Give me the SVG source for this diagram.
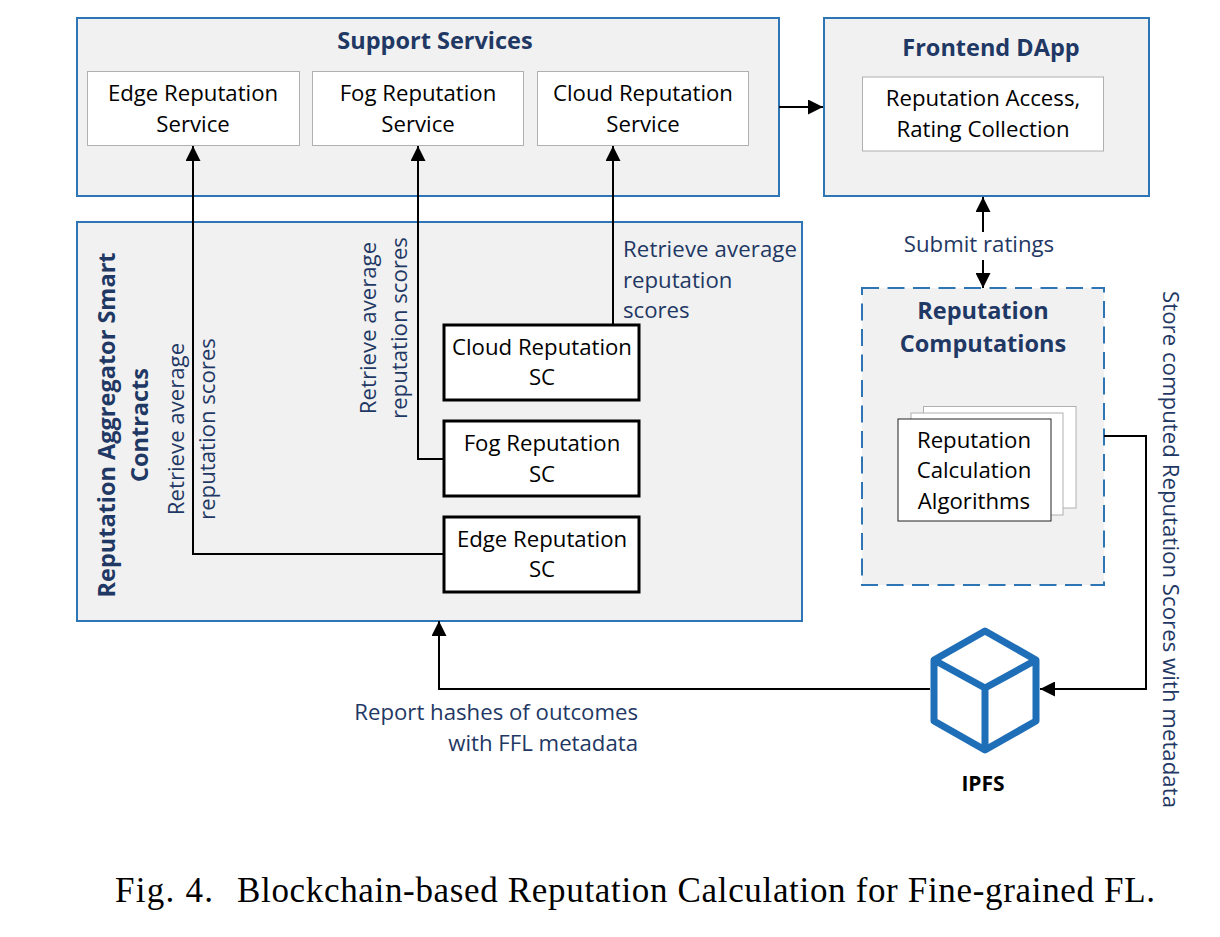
<svg xmlns="http://www.w3.org/2000/svg" width="1220" height="937" viewBox="0 0 1220 937">
<style>
text{font-family:"Open Sans","Noto Sans",sans-serif;text-anchor:middle;font-size:22.2px;fill:#000}
.p{fill:#f1f1f1;stroke:#2e75b6;stroke-width:2}
.w{fill:#fff;stroke:#b0b0b0;stroke-width:1}
.b{fill:#fff;stroke:#000;stroke-width:3}
.h{font-weight:700;fill:#1f3864;font-size:23.5px}
.l{fill:#1f3864;font-size:22.2px}
.s{text-anchor:start}
.e{text-anchor:end}
.c{fill:none;stroke:#000;stroke-width:2;marker-end:url(#a)}
.cap{font-family:"Liberation Serif",serif;font-size:35px;text-anchor:start}
</style>
<defs><marker id="a" viewBox="0 0 10 10" refX="10" refY="5" markerWidth="7.5" markerHeight="7.5" orient="auto-start-reverse"><path d="M0 0L10 5L0 10Z" fill="#000"/></marker></defs>
<rect width="1220" height="937" fill="#fff"/>
<g id="support"><rect class="p" x="77" y="18" width="702" height="178"/><text class="h" x="435" y="49">Support Services</text></g>
<g id="edge-service"><rect class="w" x="87.500" y="71.500" width="212" height="74"/><text x="193" y="101">Edge Reputation</text><text x="193" y="132">Service</text></g>
<g id="fog-service"><rect class="w" x="312.500" y="71.500" width="211" height="74"/><text x="418" y="101">Fog Reputation</text><text x="418" y="132">Service</text></g>
<g id="cloud-service"><rect class="w" x="537.500" y="71.500" width="211" height="74"/><text x="643" y="101">Cloud Reputation</text><text x="643" y="132">Service</text></g>
<g id="frontend"><rect class="p" x="824" y="18" width="325" height="178"/><text class="h" x="991" y="56">Frontend DApp</text><rect class="w" x="862.500" y="77" width="241" height="74"/><text x="983" y="106">Reputation Access,</text><text x="983" y="137">Rating Collection</text></g>
<g id="aggregator"><rect class="p" x="77" y="222" width="725" height="399"/><text class="h" transform="translate(115 425) rotate(-90)">Reputation Aggregator Smart</text><text class="h" transform="translate(148 425) rotate(-90)">Contracts</text></g>
<g id="cloud-sc"><rect class="b" x="444" y="325" width="195" height="75"/><text x="542" y="355">Cloud Reputation</text><text x="542" y="385">SC</text></g>
<g id="fog-sc"><rect class="b" x="444" y="421" width="195" height="75"/><text x="542" y="451">Fog Reputation</text><text x="542" y="482">SC</text></g>
<g id="edge-sc"><rect class="b" x="444" y="517" width="195" height="75"/><text x="542" y="547">Edge Reputation</text><text x="542" y="577">SC</text></g>
<g id="computations"><rect x="862" y="288" width="242" height="297" fill="#f1f1f1" stroke="#2e75b6" stroke-width="2" stroke-dasharray="17 8.5"/><text class="h" x="983" y="319">Reputation</text><text class="h" x="983" y="352">Computations</text>
<rect class="w" x="923.500" y="406.500" width="152.500" height="101.500"/><rect class="w" x="911" y="413" width="152" height="102"/><rect x="898" y="419" width="153" height="102" fill="#fff" stroke="#222" stroke-width="1"/>
<text x="974" y="448">Reputation</text><text x="974" y="478">Calculation</text><text x="974" y="509">Algorithms</text></g>
<g id="ipfs"><path d="M985 631L1036 660V721L985 750L934 721V660ZM934 660L985 688L1036 660M985 688V750" fill="none" stroke="#1f6fb8" stroke-width="7" stroke-linejoin="round"/><text x="983" y="791" style="font-weight:700;font-size:21px">IPFS</text></g>
<g id="connectors">
<path class="c" d="M444 554H193V146"/><path class="c" d="M444 459H418V146"/><path class="c" d="M613 325V146"/><path class="c" d="M779 107H823"/>
<path class="c" d="M983 232V197"/><path class="c" d="M983 260V288"/>
<path class="c" d="M1104 436H1146V689H1040"/><path class="c" d="M930 689H439V621"/>
</g>
<g id="labels">
<text class="l" x="979" y="252">Submit ratings</text>
<text class="l s" x="623" y="257" textLength="174">Retrieve average</text><text class="l s" x="623" y="288">reputation</text><text class="l s" x="623" y="318">scores</text>
<text class="l" transform="translate(376 328) rotate(-90)">Retrieve average</text><text class="l" transform="translate(407 328) rotate(-90)">reputation scores</text>
<text class="l" transform="translate(184 429) rotate(-90)">Retrieve average</text><text class="l" transform="translate(215 429) rotate(-90)">reputation scores</text>
<text class="l e" x="638" y="720">Report hashes of outcomes</text><text class="l e" x="638" y="751">with FFL metadata</text>
<text class="l" transform="translate(1163 549.500) rotate(90)" textLength="517">Store computed Reputation Scores with metadata</text>
</g>
<g id="caption"><text class="cap" x="115" y="902" textLength="98" lengthAdjust="spacing">Fig. 4.</text><text class="cap" x="237" y="902" textLength="918" lengthAdjust="spacing">Blockchain-based Reputation Calculation for Fine-grained FL.</text></g>
</svg>
